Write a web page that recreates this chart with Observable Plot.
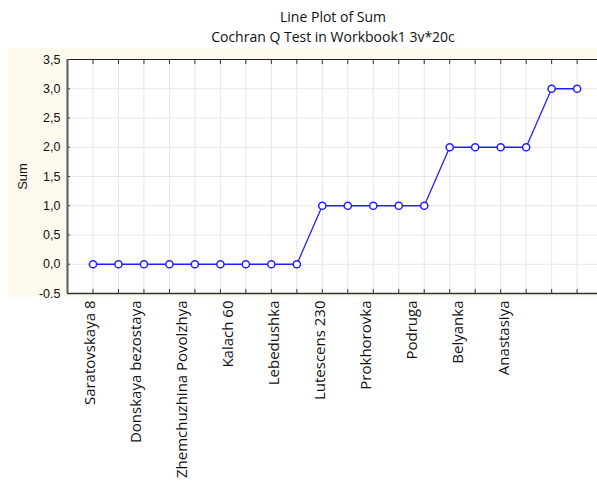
<!DOCTYPE html>
<html>
<head>
<meta charset="utf-8">
<script src="https://cdn.jsdelivr.net/npm/d3@7"></script>
<script src="https://cdn.jsdelivr.net/npm/@observablehq/plot@0.6"></script>
<style>
  body { margin: 0; background: white; }
  #wrap { position: relative; width: 597px; height: 483px; overflow: hidden; background: white; }
  #cream { position: absolute; left: 8px; top: 48px; width: 589px; height: 249px; background: #fdf9ed; }
  .title { position: absolute; left: 67px; width: 532px; text-align: center; font-family: "Open Sans", sans-serif; font-size: 14px; color: #111; white-space: nowrap; }
  #chart { position: absolute; left: 0; top: 48px; }
  #chart svg { background: transparent !important; overflow: visible; }
</style>
</head>
<body>
<div id="wrap">
  <div id="cream"></div>
  <div class="title" style="top:7px">Line Plot of Sum</div>
  <div class="title" style="top:27px">Cochran Q Test in Workbook1 3v*20c</div>
  <div id="chart"></div>
</div>
<script>
// case numbers 1..20 and the Sum value for each case
const cases = [1,2,3,4,5,6,7,8,9,10,11,12,13,14,15,16,17,18,19,20];
const sums  = [0,0,0,0,0,0,0,0,0,1,1,1,1,1,2,2,2,2,3,3];
// category labels printed along the x axis
const labels = ["Saratovskaya 8","Donskaya bezostaya","Zhemchuzhina Povolzhya","Kalach 60","Lebedushka","Lutescens 230","Prokhorovka","Podruga","Belyanka","Anastasiya"];
// y axis ticks and their printed labels
const yTicks = [-0.5,0,0.5,1,1.5,2,2.5,3,3.5];
const yTickLabels = ["-0.5","0,0","0,5","1,0","1,5","2,0","2,5","3,0","3,5"];

const data = cases.map((c, i) => ({c, sum: sums[i]}));
const labelData = labels.map((name, k) => ({name, x: 0.9 + 1.805 * k}));

const chart = Plot.plot({
  width: 597,
  height: 435,
  marginLeft: 67,
  marginRight: 0,
  marginTop: 11,
  marginBottom: 190,
  style: {background: "transparent", overflow: "visible"},
  x: {type: "linear", domain: [0, 20.8], axis: null},
  y: {domain: [-0.5, 3.5], axis: null},
  marks: [
    Plot.frame({fill: "white", stroke: "none"}),
    Plot.ruleX(cases, {stroke: "#e6e6e6", strokeWidth: 1}),
    Plot.ruleY(yTicks, {stroke: "#e6e6e6", strokeWidth: 1}),
    Plot.axisX({anchor: "top", ticks: cases, tickSize: -4, tickFormat: () => "", label: null, stroke: "#333"}),
    Plot.axisX({anchor: "bottom", ticks: cases, tickSize: -4, tickFormat: () => "", label: null, stroke: "#333"}),
    Plot.axisY({anchor: "left", ticks: yTicks, tickSize: -3, tickFormat: () => "", label: null, stroke: "#333"}),
    Plot.axisY({anchor: "left", ticks: yTicks, tickSize: 0, tickPadding: 7, label: null,
      tickFormat: d => yTickLabels[yTicks.indexOf(d)],
      fontFamily: "Liberation Sans, Arial, sans-serif", fontSize: 12.5, fill: "#111"}),
    Plot.ruleY([3.5], {stroke: "#222", strokeWidth: 1}),
    Plot.ruleY([-0.5], {stroke: "#333", strokeWidth: 1.6}),
    Plot.ruleX([0], {stroke: "#666", strokeWidth: 2.2}),
    Plot.line(data, {x: "c", y: "sum", stroke: "#2020ff", strokeWidth: 1.3}),
    Plot.dot(data, {x: "c", y: "sum", r: 3.6, stroke: "#2020ff", fill: "white", strokeWidth: 1.5}),
    Plot.text(labelData, {x: "x", y: -0.5, text: "name", rotate: -90, textAnchor: "end", dy: 7,
      fontFamily: "Open Sans, sans-serif", fontSize: 15, fill: "#111"}),
    Plot.text(["Sum"], {x: 0, y: 1.5, text: d => d, rotate: -90, dx: -45, frameAnchor: "middle",
      fontFamily: "Liberation Sans, Arial, sans-serif", fontSize: 13, fill: "#111"})
  ]
});
document.getElementById("chart").appendChild(chart);
</script>
</body>
</html>
